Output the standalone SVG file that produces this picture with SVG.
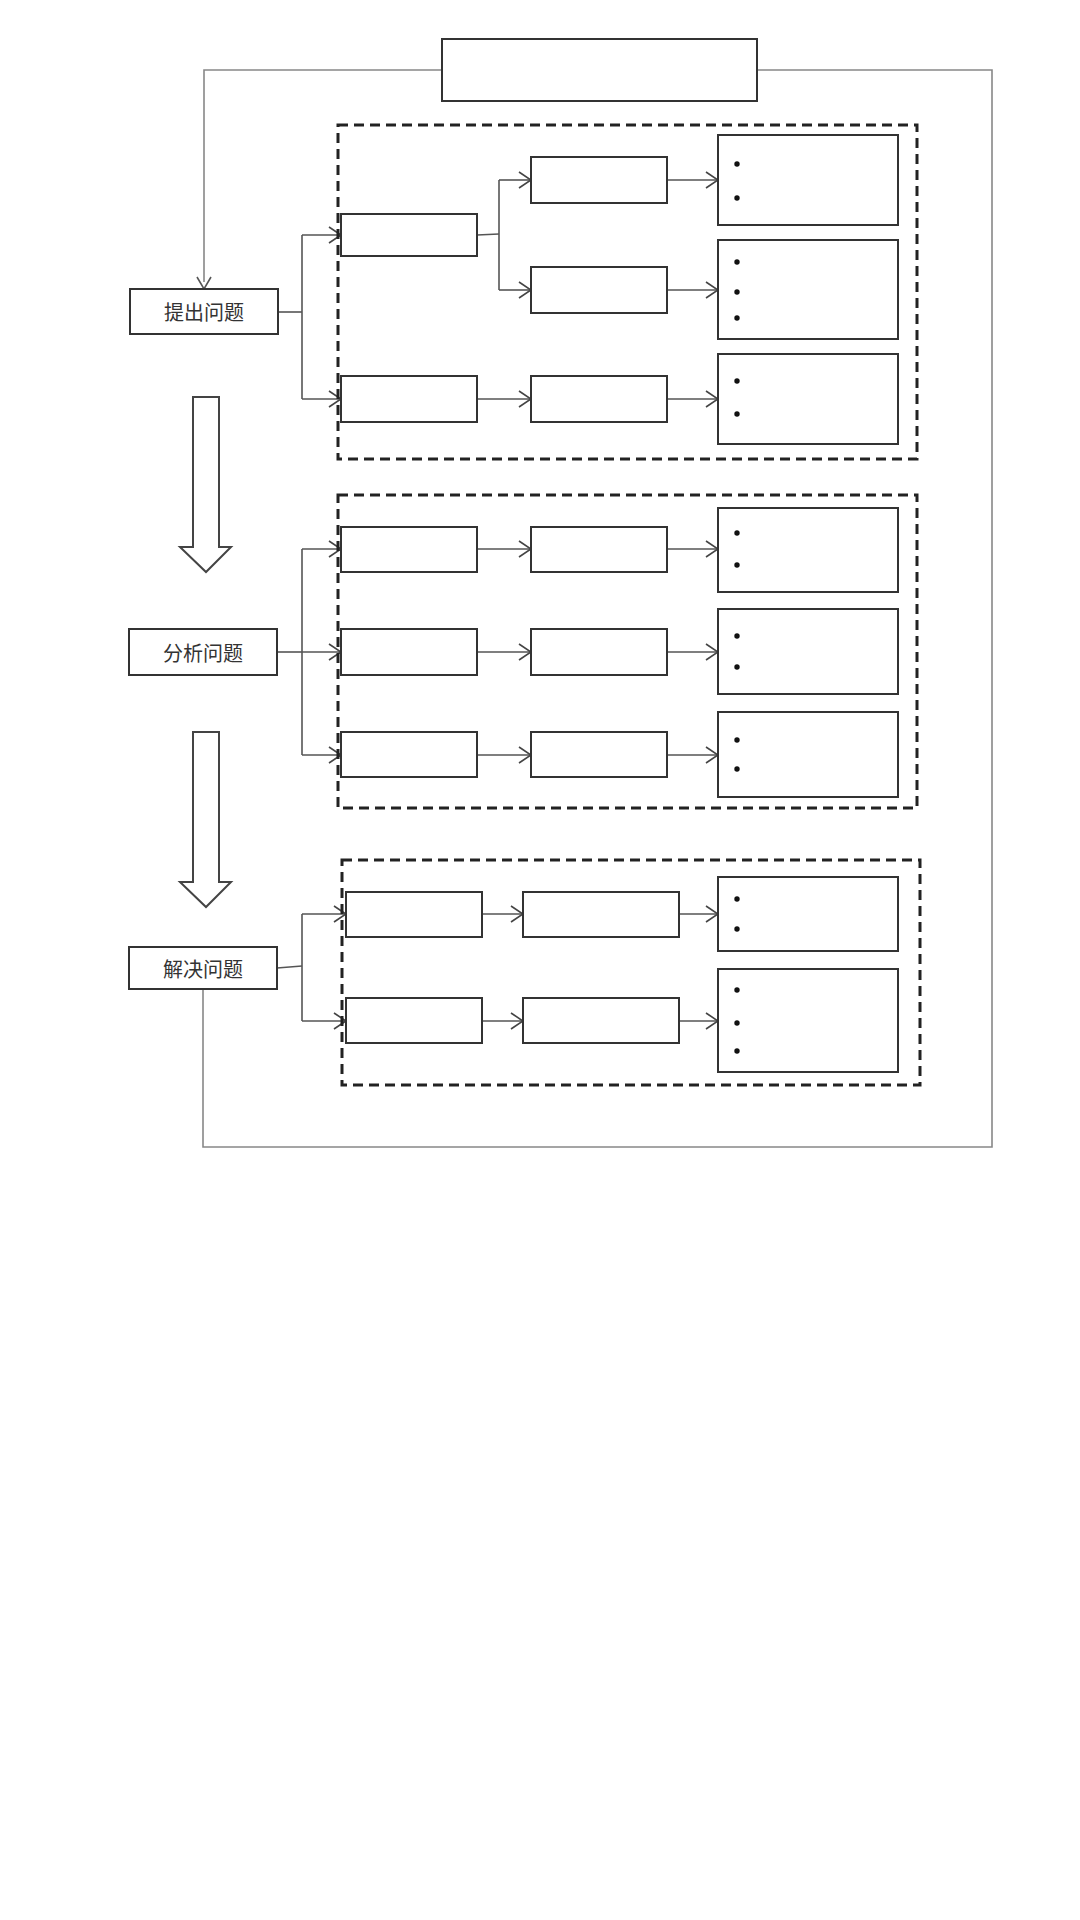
<svg xmlns="http://www.w3.org/2000/svg" width="1080" height="1920" viewBox="0 0 1080 1920">
<defs>
<marker id="open" viewBox="0 0 14 18" refX="13" refY="9" markerWidth="14" markerHeight="18" markerUnits="userSpaceOnUse" orient="auto">
<path d="M1,1 L13,9 L1,17" fill="none" stroke="#444" stroke-width="1.6"/>
</marker>
</defs>
<style>
.box{fill:#fff;stroke:#333;stroke-width:2}
.dash{fill:none;stroke:#222;stroke-width:3;stroke-dasharray:10 6}
.con{fill:none;stroke:#555;stroke-width:1.6}
.arr{fill:none;stroke:#555;stroke-width:1.6;marker-end:url(#open)}
.loop{fill:none;stroke:#888;stroke-width:1.6}
.hollow{fill:#fff;stroke:#444;stroke-width:2;stroke-linejoin:miter}
.lbl{font-family:"Noto Sans CJK SC","Noto Sans",sans-serif;font-size:20px;fill:#333;text-anchor:middle;dominant-baseline:central}
.dot{fill:#111}
</style>
<rect width="1080" height="1920" fill="#fff"/>

<g id="connectors">
<path class="loop" d="M442,70 H204 V282"/>
<path d="M197,277 L204,289 L211,277" fill="none" stroke="#555" stroke-width="1.6"/>
<path class="loop" d="M757,70 H992 V1147 H203 V989"/>
<!-- group 1 -->
<path class="con" d="M278,312 H302"/>
<path class="con" d="M302,235 V399"/>
<path class="arr" d="M302,235 H341"/>
<path class="arr" d="M302,399 H341"/>
<path class="con" d="M477,235 L499,234"/>
<path class="con" d="M499,180 V290"/>
<path class="arr" d="M499,180 H531"/>
<path class="arr" d="M499,290 H531"/>
<path class="arr" d="M667,180 H718"/>
<path class="arr" d="M667,290 H718"/>
<path class="arr" d="M477,399 H531"/>
<path class="arr" d="M667,399 H718"/>
<!-- group 2 -->
<path class="con" d="M277,652 H302"/>
<path class="con" d="M302,549 V755"/>
<path class="arr" d="M302,549 H341"/>
<path class="arr" d="M302,652 H341"/>
<path class="arr" d="M302,755 H341"/>
<path class="arr" d="M477,549 H531"/>
<path class="arr" d="M477,652 H531"/>
<path class="arr" d="M477,755 H531"/>
<path class="arr" d="M667,549 H718"/>
<path class="arr" d="M667,652 H718"/>
<path class="arr" d="M667,755 H718"/>
<!-- group 3 -->
<path class="con" d="M277,968 L302,966"/>
<path class="con" d="M302,914 V1021"/>
<path class="arr" d="M302,914 H346"/>
<path class="arr" d="M302,1021 H346"/>
<path class="arr" d="M482,914 H523"/>
<path class="arr" d="M482,1021 H523"/>
<path class="arr" d="M679,914 H718"/>
<path class="arr" d="M679,1021 H718"/>
</g>

<g id="hollow-arrows">
<path class="hollow" d="M193,397 H219 V547 H231 L206,572 L180,547 H193 Z"/>
<path class="hollow" d="M193,732 H219 V882 H231 L206,907 L180,882 H193 Z"/>
</g>

<g id="top-box"><rect class="box" x="442" y="39" width="315" height="62"/></g>

<g id="step1"><rect class="box" x="130" y="289" width="148" height="45"/><text class="lbl" x="204" y="311.5">提出问题</text></g>
<g id="step2"><rect class="box" x="129" y="629" width="148" height="46"/><text class="lbl" x="203" y="652">分析问题</text></g>
<g id="step3"><rect class="box" x="129" y="947" width="148" height="42"/><text class="lbl" x="203" y="968">解决问题</text></g>

<g id="group1">
<rect class="dash" x="338" y="125" width="579" height="334"/>
<rect class="box" x="341" y="214" width="136" height="42"/>
<rect class="box" x="531" y="157" width="136" height="46"/>
<rect class="box" x="531" y="267" width="136" height="46"/>
<rect class="box" x="341" y="376" width="136" height="46"/>
<rect class="box" x="531" y="376" width="136" height="46"/>
<rect class="box" x="718" y="135" width="180" height="90"/>
<rect class="box" x="718" y="240" width="180" height="99"/>
<rect class="box" x="718" y="354" width="180" height="90"/>
<circle class="dot" cx="737" cy="164" r="2.7"/><circle class="dot" cx="737" cy="198" r="2.7"/>
<circle class="dot" cx="737" cy="262" r="2.7"/><circle class="dot" cx="737" cy="292" r="2.7"/><circle class="dot" cx="737" cy="318" r="2.7"/>
<circle class="dot" cx="737" cy="381" r="2.7"/><circle class="dot" cx="737" cy="414" r="2.7"/>
</g>

<g id="group2">
<rect class="dash" x="338" y="495" width="579" height="313"/>
<rect class="box" x="341" y="527" width="136" height="45"/>
<rect class="box" x="531" y="527" width="136" height="45"/>
<rect class="box" x="718" y="508" width="180" height="84"/>
<rect class="box" x="341" y="629" width="136" height="46"/>
<rect class="box" x="531" y="629" width="136" height="46"/>
<rect class="box" x="718" y="609" width="180" height="85"/>
<rect class="box" x="341" y="732" width="136" height="45"/>
<rect class="box" x="531" y="732" width="136" height="45"/>
<rect class="box" x="718" y="712" width="180" height="85"/>
<circle class="dot" cx="737" cy="533" r="2.7"/><circle class="dot" cx="737" cy="565" r="2.7"/>
<circle class="dot" cx="737" cy="636" r="2.7"/><circle class="dot" cx="737" cy="667" r="2.7"/>
<circle class="dot" cx="737" cy="740" r="2.7"/><circle class="dot" cx="737" cy="769" r="2.7"/>
</g>

<g id="group3">
<rect class="dash" x="342" y="860" width="578" height="225"/>
<rect class="box" x="346" y="892" width="136" height="45"/>
<rect class="box" x="523" y="892" width="156" height="45"/>
<rect class="box" x="718" y="877" width="180" height="74"/>
<rect class="box" x="346" y="998" width="136" height="45"/>
<rect class="box" x="523" y="998" width="156" height="45"/>
<rect class="box" x="718" y="969" width="180" height="103"/>
<circle class="dot" cx="737" cy="899" r="2.7"/><circle class="dot" cx="737" cy="929" r="2.7"/>
<circle class="dot" cx="737" cy="990" r="2.7"/><circle class="dot" cx="737" cy="1023" r="2.7"/><circle class="dot" cx="737" cy="1051" r="2.7"/>
</g>
</svg>
